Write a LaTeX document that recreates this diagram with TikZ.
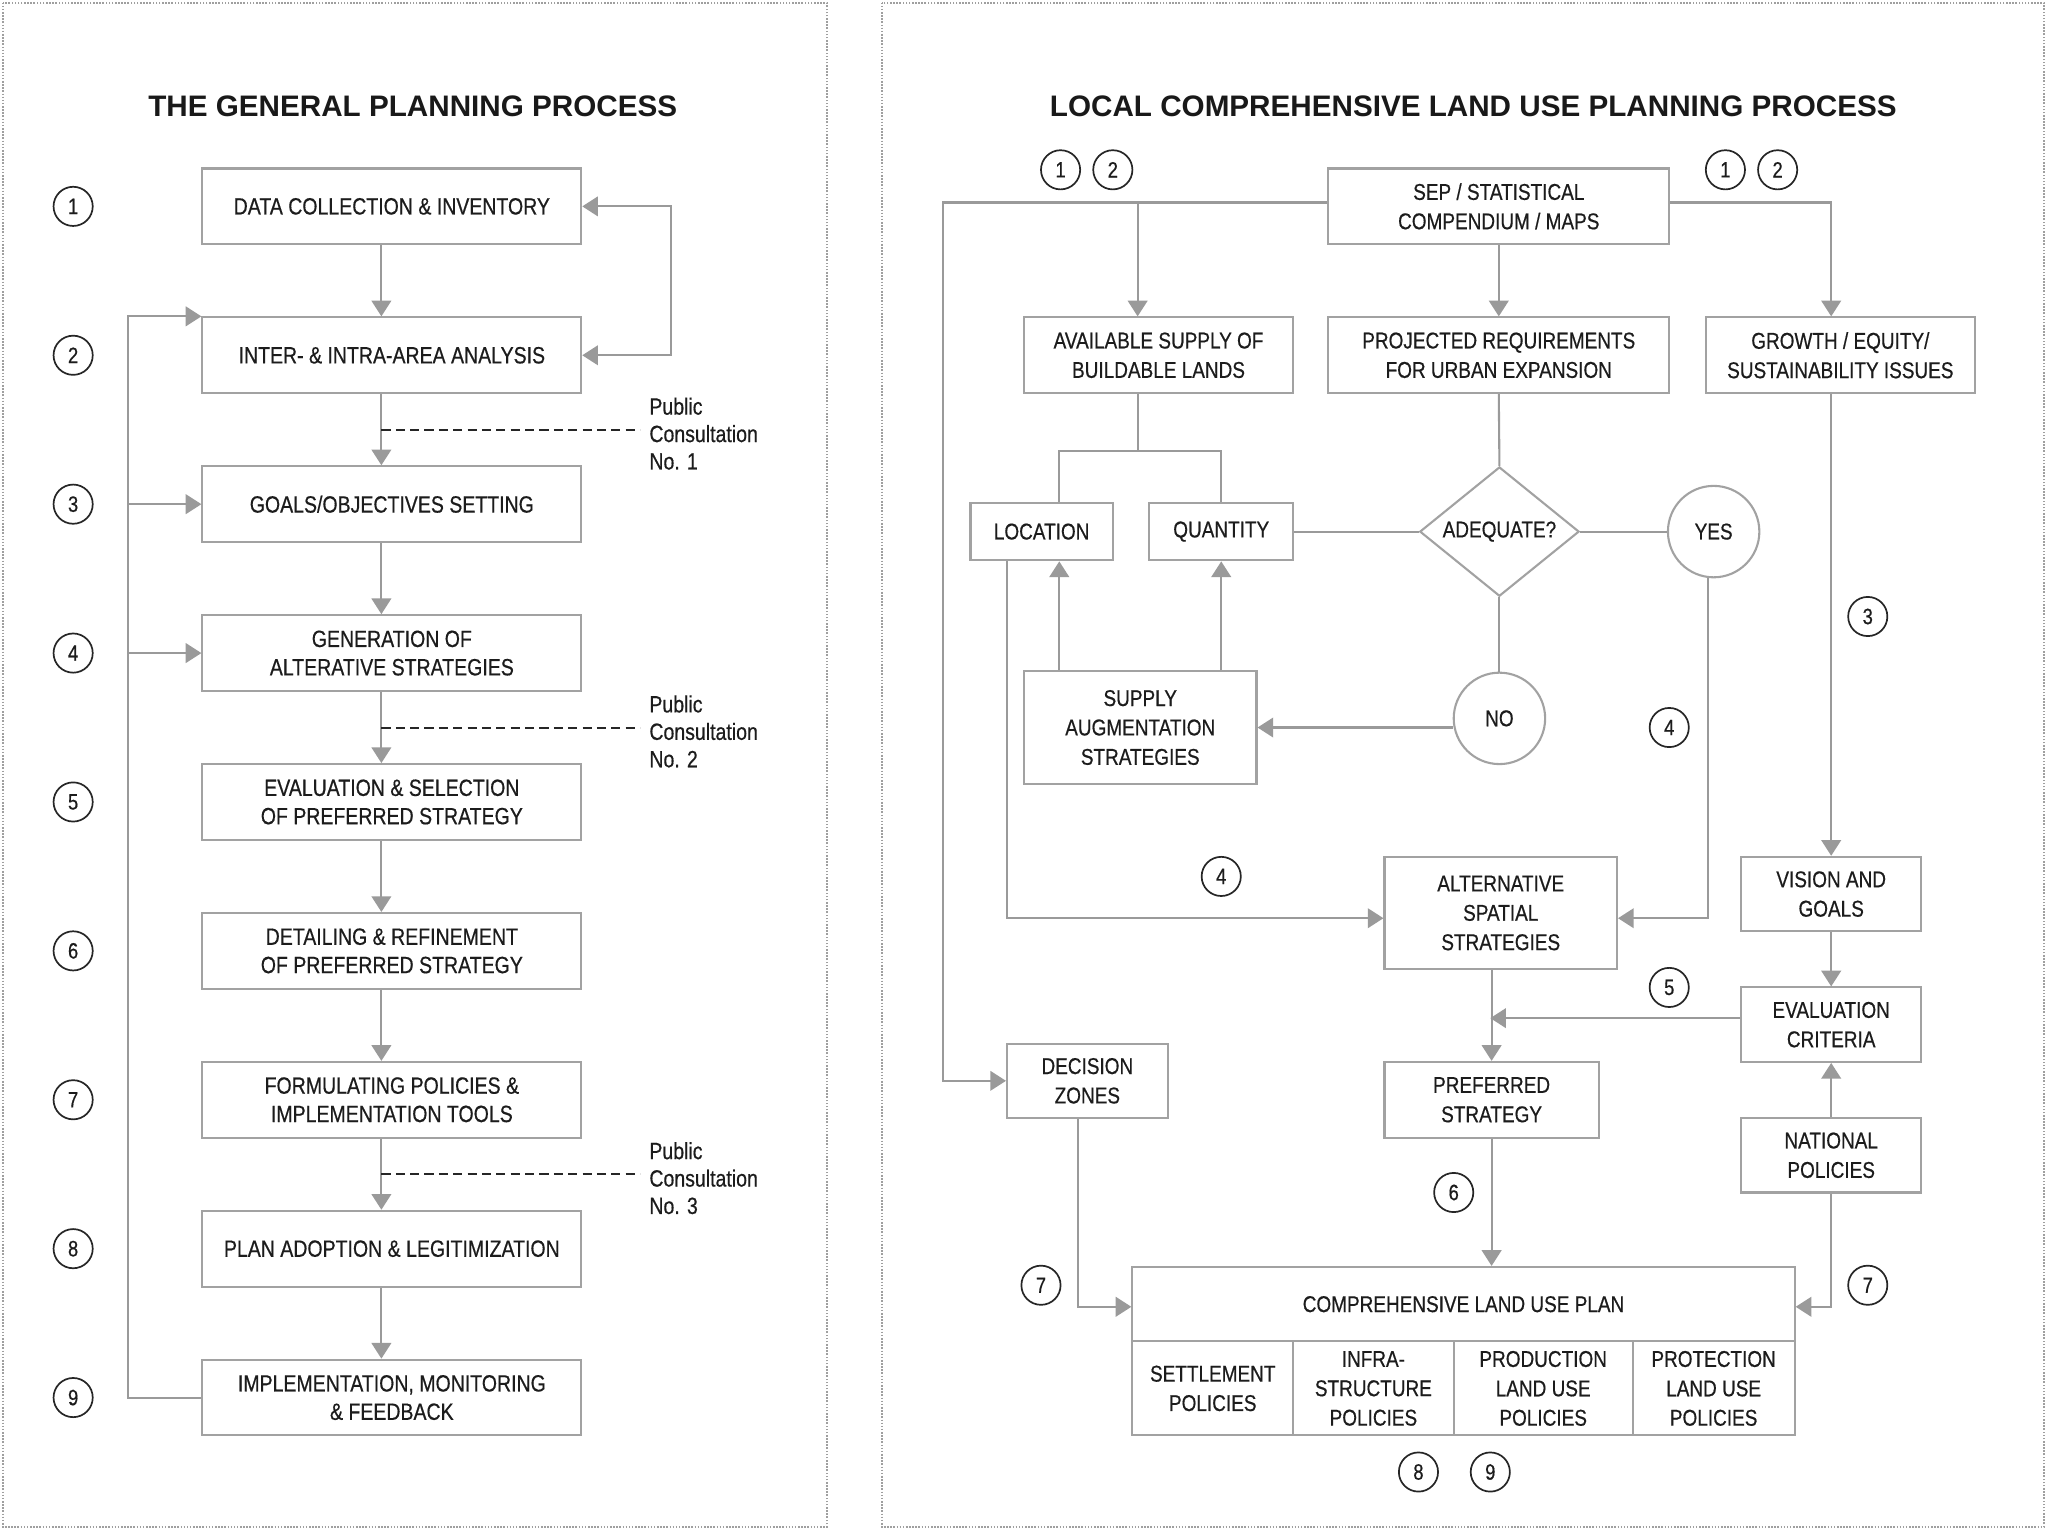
\documentclass[tikz,border=0pt]{standalone}
\usepackage{fontspec}
\setmainfont{Liberation Sans}[FakeStretch=0.83,FakeBold=0.5]
\newfontfamily\titlefont{Liberation Sans}
\usetikzlibrary{arrows.meta,shapes.geometric}
\definecolor{linegray}{HTML}{9A9A9A}
\definecolor{boxgray}{HTML}{A2A2A2}
\definecolor{txt}{HTML}{1C1C1C}
\begin{document}
\begin{tikzpicture}[x=1pt,y=-1pt,
  box/.style={draw=boxgray, line width=1.6pt, fill=white, align=center, inner sep=0pt, text=txt, font=\fontsize{18}{21.7}\selectfont},
  lbox/.style={box, minimum width=290pt, minimum height=58pt},
  rbox/.style={box, font=\fontsize{17.5}{22.5}\selectfont},
  num/.style={circle, draw=black!85, line width=1.3pt, minimum size=30pt, inner sep=0pt, text=txt, font=\fontsize{17}{17}\selectfont},
  ttl/.style={font=\titlefont\bfseries\fontsize{22.7}{26}\selectfont, text=black!90},
  conn/.style={draw=linegray, line width=1.6pt},
  arr/.style={conn, -{Triangle[width=15pt,length=12pt]}},
  arrboth/.style={conn, {Triangle[width=15pt,length=12pt]}-{Triangle[width=15pt,length=12pt]}},
  pc/.style={draw=black!85, line width=1.5pt, dash pattern=on 7pt off 4pt},
  pub/.style={align=left, anchor=west, inner sep=0pt, text=txt, font=\fontsize{18}{21}\selectfont},
  border/.style={draw=gray!75, line width=1.4pt, dash pattern=on 1.2pt off 1.2pt}]
\useasboundingbox (0,0) rectangle (1568,1176);
\fill[white] (0,0) rectangle (1568,1176);
% panel borders
\draw[border] (2,2) rectangle (633,1169);
\draw[border] (675,2) rectangle (1565,1169);
% titles
\node[ttl] (t1) at (316,81) {THE GENERAL PLANNING PROCESS};
\node[ttl] (t2) at (1128,81) {LOCAL COMPREHENSIVE LAND USE PLANNING PROCESS};
% ---------------- left panel ----------------
\node[lbox] (b1) at (300,158) {DATA COLLECTION \& INVENTORY};
\node[lbox] (b2) at (300,272) {INTER- \& INTRA-AREA ANALYSIS};
\node[lbox] (b3) at (300,386) {GOALS/OBJECTIVES SETTING};
\node[lbox] (b4) at (300,500) {GENERATION OF\\ALTERATIVE STRATEGIES};
\node[lbox] (b5) at (300,614) {EVALUATION \& SELECTION\\OF PREFERRED STRATEGY};
\node[lbox] (b6) at (300,728) {DETAILING \& REFINEMENT\\OF PREFERRED STRATEGY};
\node[lbox] (b7) at (300,842) {FORMULATING POLICIES \&\\IMPLEMENTATION TOOLS};
\node[lbox] (b8) at (300,956) {PLAN ADOPTION \& LEGITIMIZATION};
\node[lbox] (b9) at (300,1070) {IMPLEMENTATION, MONITORING\\\& FEEDBACK};
\foreach \i in {1,...,9} \node[num] (n\i) at (56,{158+114*(\i-1)}) {\i};
\foreach \a/\b in {1/2,2/3,3/4,4/5,5/6,6/7,7/8,8/9}
  \draw[arr] ([xshift=-8pt]b\a.south) -- ([xshift=-8pt]b\b.north);
% public consultations
\node[pub] (pc1) at (497,332) {Public\\Consultation\\No. 1};
\node[pub] (pc2) at (497,560) {Public\\Consultation\\No. 2};
\node[pub] (pc3) at (497,902) {Public\\Consultation\\No. 3};
\coordinate (d1) at (292,329);
\coordinate (d2) at (292,557);
\coordinate (d3) at (292,899);
\draw[pc] (d1) -- (d1 -| 490,0);
\draw[pc] (d2) -- (d2 -| 490,0);
\draw[pc] (d3) -- (d3 -| 490,0);
% feedback loops
\coordinate (fb) at (98,0);
\draw[arr] (b9.west) -- (b9.west -| fb) |- (b2.north west);
\draw[arr] (b3.west -| fb) -- (b3.west);
\draw[arr] (b4.west -| fb) -- (b4.west);
\coordinate (rl) at (514,0);
\draw[arrboth] (b1.east) -- (b1.east -| rl) -- (b2.east -| rl) -- (b2.east);
% ---------------- right panel ----------------
\node[rbox, minimum width=261pt, minimum height=58pt] (sep) at (1147.5,158) {SEP / STATISTICAL\\COMPENDIUM / MAPS};
\node[rbox, minimum width=206pt, minimum height=58pt] (avail) at (887,272) {AVAILABLE SUPPLY OF\\BUILDABLE LANDS};
\node[rbox, minimum width=261pt, minimum height=58pt] (proj) at (1147.5,272) {PROJECTED REQUIREMENTS\\FOR URBAN EXPANSION};
\node[rbox, minimum width=206pt, minimum height=58pt] (growth) at (1409,272) {GROWTH / EQUITY/\\SUSTAINABILITY ISSUES};
\node[rbox, minimum width=109pt, minimum height=44pt] (loc) at (797.5,407) {LOCATION};
\node[rbox, minimum width=110pt, minimum height=44pt] (qty) at (935,407) {QUANTITY};
\node[rbox, diamond, aspect=1.23, minimum width=122pt, minimum height=99pt] (dia) at (1148,407) {ADEQUATE?};
\node[rbox, circle, minimum size=70pt] (yes) at (1312,407) {YES};
\node[rbox, circle, minimum size=70pt] (no) at (1148,550) {NO};
\node[rbox, minimum width=178pt, minimum height=86pt] (sup) at (873,557) {SUPPLY\\AUGMENTATION\\STRATEGIES};
\node[rbox, minimum width=178pt, minimum height=86pt] (alt) at (1149,699) {ALTERNATIVE\\SPATIAL\\STRATEGIES};
\node[rbox, minimum width=138pt, minimum height=57pt] (vis) at (1402,684.5) {VISION AND\\GOALS};
\node[rbox, minimum width=138pt, minimum height=57pt] (eval) at (1402,784.5) {EVALUATION\\CRITERIA};
\node[rbox, minimum width=164pt, minimum height=58pt] (pref) at (1142,842) {PREFERRED\\STRATEGY};
\node[rbox, minimum width=123pt, minimum height=57pt] (dec) at (832.5,827.5) {DECISION\\ZONES};
\node[rbox, minimum width=138pt, minimum height=57pt] (nat) at (1402,884.5) {NATIONAL\\POLICIES};
\node[rbox, minimum width=507pt, minimum height=57pt] (clup) at (1120.5,998.5) {COMPREHENSIVE LAND USE PLAN};
\node[rbox, minimum width=123pt, minimum height=72pt] (c1) at (928.5,1063) {SETTLEMENT\\POLICIES};
\node[rbox, minimum width=123pt, minimum height=72pt] (c2) at (1051.5,1063) {INFRA-\\STRUCTURE\\POLICIES};
\node[rbox, minimum width=137pt, minimum height=72pt] (c3) at (1181.5,1063) {PRODUCTION\\LAND USE\\POLICIES};
\node[rbox, minimum width=124pt, minimum height=72pt] (c4) at (1312,1063) {PROTECTION\\LAND USE\\POLICIES};
% number circles right
\node[num] (r1a) at (812,130) {1};
\node[num] (r2a) at (852,130) {2};
\node[num] (r1b) at (1321,130) {1};
\node[num] (r2b) at (1361,130) {2};
\node[num] (r3) at (1430,472) {3};
\node[num] (r4a) at (935,671) {4};
\node[num] (r4b) at (1278,557) {4};
\node[num] (r5) at (1278,756) {5};
\node[num] (r6) at (1113,913) {6};
\node[num] (r7a) at (797,984) {7};
\node[num] (r7b) at (1430,984) {7};
\node[num] (r8) at (1086,1127) {8};
\node[num] (r9) at (1141,1127) {9};
% connectors right
\coordinate (xl) at (722,0);
\coordinate (xa) at (871,0);
\coordinate (xg) at (1402,0);
\coordinate (xL) at (811,0);
\coordinate (br) at (0,345);
\coordinate (xd) at (771,0);
\coordinate (xy) at (1308,0);
\coordinate (xp) at (1142,0);
\coordinate (xz) at (825.5,0);
\draw[arr] ([yshift=3pt]sep.west) -| (xl |- dec.west) -- (dec.west);
\draw[arr] ([yshift=3pt]sep.west -| xa) -- (xa |- avail.north);
\draw[arr] (sep.south) -- (proj.north);
\draw[arr] ([yshift=3pt]sep.east) -| (xg |- growth.north);
\draw[conn] (xa |- avail.south) -- (xa |- br);
\draw[conn] (xL |- loc.north) |- (qty.north |- br) -- (qty.north);
\draw[conn] (qty.east) -- (dia.west);
\draw[conn] (proj.south) -- (dia.north);
\draw[conn] (dia.east) -- (yes.west);
\draw[conn] (dia.south) -- (no.north);
\draw[arr] (no.west |- sup.east) -- (sup.east);
\draw[arr] (xL |- sup.north) -- (xL |- loc.south);
\draw[arr] (qty.south |- sup.north) -- (qty.south);
\draw[arr] (xd |- loc.south) |- ([yshift=-4pt]alt.west);
\draw[arr] (xy |- yes.south) |- ([yshift=-4pt]alt.east);
\draw[arr] (xg |- growth.south) -- (xg |- vis.north);
\draw[arr] (vis.south) -- (eval.north);
\draw[arr] (xp |- alt.south) -- (xp |- pref.north);
\draw[arr] ([yshift=5pt]eval.west) -- ([yshift=5pt,xshift=-1pt]eval.west -| xp);
\draw[arr] (xp |- pref.south) -- (xp |- clup.north);
\draw[arr] (xz |- dec.south) |- ([yshift=-2pt]clup.west);
\draw[arr] (nat.north) -- (eval.south);
\draw[arr] (nat.south) |- ([yshift=-2pt]clup.east);
\end{tikzpicture}
\end{document}
